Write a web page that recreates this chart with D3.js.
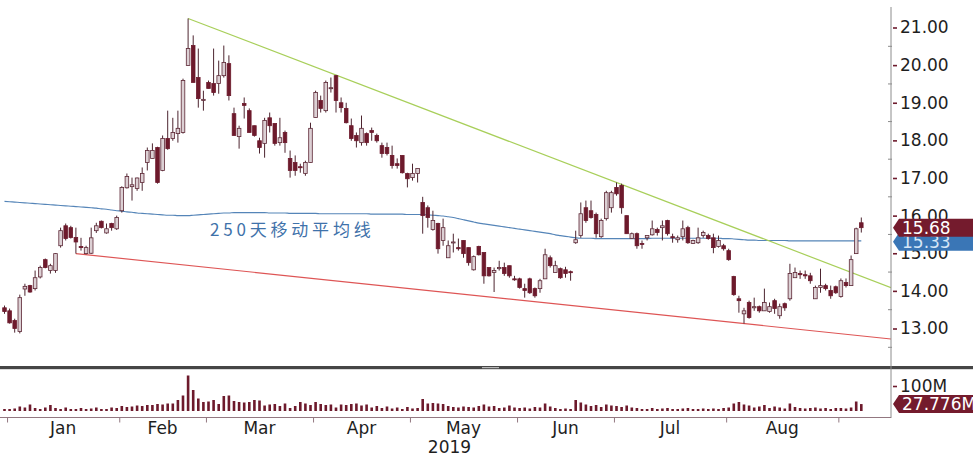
<!DOCTYPE html>
<html lang="zh">
<head>
<meta charset="UTF-8">
<title>股价走势 2019</title>
<script src="https://cdnjs.cloudflare.com/ajax/libs/d3/7.8.5/d3.min.js"></script>
<style>
    body {
        margin: 0;
        background: #fff;
    }
    svg text {
        font-family: "DejaVu Sans", Verdana, sans-serif;
    }
</style>
</head>
<body>
<svg id="chart" width="973" height="457"></svg>
<script>
    // month labels and the candle index where each month starts (HK trading days)
    const months = ["Jan", "Feb", "Mar", "Apr", "May", "Jun", "Jul", "Aug"];
    const monthStart = [1, 23, 40, 61, 80, 101, 120, 142, 164];
    const yearLabel = "2019";
    const priceTicks = [13, 14, 15, 16, 17, 18, 19, 20, 21];
    const volumeTicks = [100];

    // daily [open, high, low, close]
    const ohlc = [
        [13.55, 13.61, 13.39, 13.45], [13.47, 13.53, 13.13, 13.15], [13.21, 13.26, 12.89, 13.00], [12.92, 13.90, 12.87, 13.82],
        [14.05, 14.19, 13.87, 14.12], [14.14, 14.16, 13.95, 13.97], [14.06, 14.54, 14.01, 14.35], [14.37, 14.67, 14.33, 14.62],
        [14.83, 14.86, 14.60, 14.62], [14.54, 14.72, 14.46, 14.67], [14.54, 15.00, 14.48, 14.99], [15.20, 15.68, 15.15, 15.60],
        [15.73, 15.79, 15.34, 15.39], [15.68, 15.73, 15.39, 15.42], [15.42, 15.68, 14.99, 15.30], [15.18, 15.41, 15.07, 15.15],
        [14.99, 15.20, 14.97, 15.15], [15.00, 15.68, 14.98, 15.41], [15.60, 15.81, 15.54, 15.73], [15.85, 15.87, 15.66, 15.68],
        [15.54, 15.79, 15.52, 15.65], [15.79, 15.81, 15.60, 15.68], [15.65, 16.00, 15.62, 15.95], [16.13, 16.78, 16.08, 16.75],
        [16.74, 17.12, 16.72, 17.04], [16.77, 17.01, 16.40, 16.82], [16.72, 17.01, 16.66, 17.00], [16.88, 17.28, 16.66, 17.12],
        [17.41, 17.81, 17.20, 17.73], [17.52, 17.92, 17.52, 17.73], [17.81, 17.83, 16.85, 16.88], [17.20, 18.13, 17.18, 18.05],
        [18.05, 18.79, 17.75, 17.78], [18.05, 18.60, 17.99, 18.21], [18.18, 18.79, 17.94, 18.32], [18.21, 19.64, 18.18, 19.59],
        [19.99, 21.24, 19.99, 20.44], [20.52, 20.79, 19.54, 19.54], [19.67, 20.44, 18.87, 19.11], [19.06, 19.32, 18.79, 19.09],
        [19.54, 19.59, 19.38, 19.38], [19.51, 20.44, 19.19, 19.27], [19.51, 20.12, 19.24, 19.72], [19.72, 20.52, 19.67, 20.07],
        [20.04, 20.26, 19.06, 19.19], [18.71, 18.87, 18.13, 18.13], [18.10, 18.39, 17.78, 18.32], [18.98, 19.14, 18.58, 18.93],
        [18.79, 18.85, 18.21, 18.21], [18.39, 18.39, 18.10, 18.13], [17.99, 18.07, 17.65, 17.81], [17.92, 18.60, 17.54, 18.53],
        [18.60, 18.74, 18.21, 18.39], [18.45, 18.45, 17.86, 17.92], [17.94, 18.60, 17.86, 18.07], [18.21, 18.26, 17.67, 17.94],
        [17.52, 17.73, 17.01, 17.20], [17.41, 17.60, 17.06, 17.20], [17.30, 17.38, 17.14, 17.28], [17.12, 17.46, 17.06, 17.41],
        [17.41, 18.47, 17.41, 18.32], [18.61, 19.32, 18.61, 19.27], [19.06, 19.19, 18.74, 18.85], [18.79, 19.59, 18.74, 19.54],
        [19.38, 19.67, 19.27, 19.40], [19.72, 19.74, 18.74, 19.06], [19.00, 19.14, 18.74, 18.87], [18.85, 19.00, 18.45, 18.47],
        [18.39, 18.58, 17.99, 18.05], [18.13, 18.21, 17.81, 17.99], [17.94, 18.66, 17.86, 18.32], [18.18, 18.21, 17.86, 17.94],
        [18.26, 18.34, 17.99, 18.21], [18.13, 18.18, 17.94, 17.99], [17.86, 17.94, 17.54, 17.65], [17.81, 17.94, 17.60, 17.65],
        [17.60, 17.86, 17.25, 17.33], [17.38, 17.52, 17.25, 17.33], [17.60, 17.60, 17.12, 17.14], [17.12, 17.14, 16.75, 16.98],
        [17.01, 17.38, 16.93, 17.12], [17.12, 17.25, 16.88, 17.25], [16.35, 16.50, 15.52, 16.00], [16.21, 16.27, 15.68, 15.95],
        [15.63, 16.13, 15.60, 15.87], [15.79, 15.81, 14.99, 15.12], [15.34, 15.92, 15.20, 15.68], [14.88, 15.34, 14.88, 15.20],
        [15.28, 15.52, 15.02, 15.30], [15.15, 15.39, 15.07, 15.12], [15.34, 15.34, 14.88, 14.99], [15.15, 15.15, 14.67, 14.75],
        [14.56, 14.94, 14.54, 14.91], [15.18, 15.20, 14.94, 14.96], [15.02, 15.02, 14.19, 14.40], [14.62, 14.62, 14.38, 14.40],
        [14.49, 14.62, 13.97, 14.54], [14.59, 14.80, 14.54, 14.62], [14.62, 14.75, 14.40, 14.46], [14.67, 14.67, 14.35, 14.40],
        [14.32, 14.40, 14.27, 14.30], [14.32, 14.35, 14.06, 14.09], [14.06, 14.19, 13.82, 14.01], [14.32, 14.35, 13.92, 13.95],
        [14.06, 14.09, 13.82, 13.87], [14.06, 14.32, 13.95, 14.27], [14.32, 15.12, 14.32, 14.96], [14.88, 14.94, 14.62, 14.67],
        [14.49, 14.80, 14.49, 14.67], [14.59, 14.62, 14.32, 14.35], [14.56, 14.64, 14.35, 14.46], [14.51, 14.54, 14.27, 14.49],
        [15.28, 15.60, 15.25, 15.36], [15.47, 16.35, 15.41, 16.05], [16.21, 16.40, 15.81, 15.87], [16.13, 16.40, 15.92, 15.95],
        [16.03, 16.08, 15.41, 15.52], [15.44, 15.92, 15.41, 15.87], [15.92, 16.66, 15.87, 16.61], [16.21, 16.66, 16.08, 16.61],
        [16.75, 16.88, 16.53, 16.58], [16.80, 16.85, 16.05, 16.21], [16.00, 16.00, 15.52, 15.52], [15.39, 15.55, 15.39, 15.52],
        [15.52, 15.55, 15.12, 15.20], [15.26, 15.34, 15.12, 15.25], [15.41, 15.47, 15.34, 15.47], [15.49, 15.87, 15.47, 15.65],
        [15.63, 15.68, 15.47, 15.55], [15.68, 15.87, 15.34, 15.73], [15.87, 15.89, 15.47, 15.52], [15.44, 15.52, 15.28, 15.41],
        [15.36, 15.47, 15.28, 15.41], [15.44, 15.87, 15.34, 15.65], [15.68, 15.73, 15.25, 15.28], [15.26, 15.36, 15.25, 15.34],
        [15.28, 15.68, 15.25, 15.41], [15.47, 15.60, 15.41, 15.55], [15.47, 15.52, 15.36, 15.39], [15.41, 15.52, 15.00, 15.15],
        [15.18, 15.47, 15.15, 15.34], [15.20, 15.25, 15.07, 15.12], [15.07, 15.12, 14.80, 14.83], [14.38, 14.40, 13.87, 13.90],
        [13.79, 13.87, 13.42, 13.74], [13.39, 13.55, 13.13, 13.47], [13.69, 13.74, 13.26, 13.29], [13.55, 13.82, 13.47, 13.58],
        [13.58, 13.61, 13.42, 13.47], [13.47, 14.06, 13.47, 13.69], [13.45, 13.69, 13.42, 13.58], [13.74, 13.79, 13.39, 13.53],
        [13.34, 13.66, 13.26, 13.58], [13.66, 13.69, 13.47, 13.55], [13.79, 14.72, 13.74, 14.46], [14.35, 14.62, 14.35, 14.49],
        [14.46, 14.54, 14.32, 14.43], [14.43, 14.54, 14.32, 14.40], [14.40, 14.48, 14.19, 14.27], [13.79, 14.14, 13.79, 14.09],
        [14.09, 14.59, 13.95, 14.14], [14.14, 14.19, 14.01, 14.06], [14.01, 14.14, 13.79, 13.87], [14.11, 14.14, 13.92, 13.95],
        [13.85, 14.33, 13.82, 14.27], [14.22, 14.33, 14.09, 14.14], [14.14, 14.94, 14.14, 14.83], [14.99, 15.68, 14.99, 15.65],
        [15.81, 15.95, 15.55, 15.68]
    ];

    // daily volume, millions
    const volume = [
        8, 8, 10, 18, 14, 26, 12, 8, 14, 24, 12, 8, 14, 8, 8, 12, 8, 10, 14, 8, 8, 14, 12,
        20, 16, 18, 22, 20, 24, 24, 28, 26, 30, 30, 44, 62, 142, 84, 50, 36,
        38, 44, 28, 60, 62, 40, 36, 34, 36, 44, 42, 22, 26, 28, 20, 30, 12, 20, 36, 30, 24,
        36, 28, 24, 26, 14, 26, 24, 28, 30, 22, 26, 14, 20, 12, 18, 10, 14, 8, 16,
        10, 12, 48, 30, 32, 30, 28, 20, 16, 14, 18, 16, 14, 20, 26, 18, 20, 12, 14, 22, 14,
        12, 14, 10, 16, 14, 30, 18, 12, 8, 10, 8, 44, 34, 26, 20, 24, 16, 26, 22,
        20, 16, 22, 14, 12, 8, 8, 12, 8, 10, 12, 8, 8, 10, 12, 8, 8, 10, 8, 10, 8, 12,
        14, 30, 36, 26, 22, 14, 18, 24, 12, 18, 14, 10, 30, 16, 12, 10, 12, 14, 10, 12, 8, 12,
        12, 10, 14, 38, 27.776
    ];

    // 250-day moving average
    const ma250 = [
        16.38, 16.37, 16.36, 16.35, 16.34, 16.33, 16.32, 16.31, 16.30, 16.29, 16.28, 16.27, 16.26, 16.25, 16.24, 16.23,
        16.22, 16.21, 16.20, 16.18, 16.17, 16.15, 16.13,
        16.12, 16.10, 16.09, 16.07, 16.06, 16.05, 16.04, 16.03, 16.02, 16.01, 16.01, 16.00, 16.00,
        16.00, 16.01, 16.02, 16.03, 16.04, 16.05, 16.06, 16.07, 16.07, 16.08, 16.08, 16.08, 16.08,
        16.08, 16.08, 16.08, 16.07, 16.07, 16.07, 16.07, 16.06, 16.06, 16.06, 16.06, 16.06, 16.06, 16.05, 16.05, 16.05,
        16.05, 16.05, 16.05, 16.05, 16.05, 16.05, 16.05, 16.04, 16.04, 16.04, 16.04, 16.04, 16.04, 16.04, 16.03, 16.03,
        16.03, 16.03, 16.02,
        16.01, 16.00, 15.99, 15.97, 15.95, 15.92, 15.89, 15.86, 15.83, 15.80, 15.78, 15.76, 15.74, 15.72, 15.70, 15.68, 15.66,
        15.64, 15.62, 15.60, 15.58, 15.56, 15.54, 15.52, 15.49, 15.47, 15.45, 15.43, 15.41, 15.40,
        15.40, 15.40, 15.39, 15.39, 15.39, 15.39, 15.39, 15.39, 15.39, 15.39, 15.39, 15.39, 15.39, 15.40, 15.40, 15.40,
        15.40, 15.40, 15.40, 15.40, 15.40, 15.40, 15.40, 15.40, 15.40, 15.40, 15.40, 15.39, 15.39, 15.38, 15.37, 15.36,
        15.35, 15.35, 15.34, 15.34, 15.34,
        15.34, 15.34, 15.34, 15.33, 15.33, 15.33, 15.33, 15.33, 15.33, 15.33, 15.33, 15.33, 15.33, 15.33, 15.33, 15.33,
        15.33, 15.33
    ];

    // hand-drawn trend lines: [candle index, price] anchors
    const upperTrend = [[36, 21.24], [120, 16.88]];
    const lowerTrend = [[14, 14.99], [145, 13.13]];
    const maLabel = "250天移动平均线";

    const width = 973;
    const axisX = 891;
    const priceBottom = 366;

    const maroon = "#6d1a2c";
    const svg = d3.select("#chart");

    const x = d3.scaleLinear().domain([0, ohlc.length - 1]).range([4.5, 861.3]);
    const y = d3.scaleLinear().domain([13, 21]).range([328.5, 27.5]);
    const yv = d3.scaleLinear().domain([0, 100]).range([411, 386]);

    svg.append("defs").append("clipPath").attr("id", "priceClip")
        .append("rect").attr("x", 0).attr("y", 0).attr("width", axisX).attr("height", priceBottom);

    const plot = svg.append("g").attr("clip-path", "url(#priceClip)");

    // moving average
    const maLine = d3.line().x((d, i) => x(i)).y(d => y(d)).curve(d3.curveMonotoneX);
    plot.append("path")
        .attr("d", maLine(ma250))
        .attr("fill", "none")
        .attr("stroke", "#5585b8")
        .attr("stroke-width", 1.15);

    // trend lines, extended to the axis
    const xEnd = x.invert(axisX);
    function trend(anchors, color) {
        const [[i0, p0], [i1, p1]] = anchors;
        const slope = (p1 - p0) / (i1 - i0);
        plot.append("line")
            .attr("x1", x(i0)).attr("y1", y(p0))
            .attr("x2", x(xEnd)).attr("y2", y(p0 + slope * (xEnd - i0)))
            .attr("stroke", color)
            .attr("stroke-width", 1.2);
    }
    trend(upperTrend, "#a8cf5a");
    trend(lowerTrend, "#de5555");

    plot.append("text")
        .attr("x", 210)
        .attr("y", 236)
        .attr("fill", "#3f72aa")
        .style("font-family", "'Noto Sans CJK SC', sans-serif")
        .style("font-size", "17px")
        .style("letter-spacing", "3.8px")
        .text(maLabel);

    // candles
    const bodyW = 3.6;
    const candles = plot.selectAll("g.candle")
        .data(ohlc)
        .enter()
        .append("g")
        .attr("class", "candle");

    candles.append("line")
        .attr("x1", (d, i) => x(i)).attr("x2", (d, i) => x(i))
        .attr("y1", d => y(d[1])).attr("y2", d => y(d[2]))
        .attr("stroke", "#4d2530")
        .attr("stroke-width", 1);

    candles.append("rect")
        .attr("x", (d, i) => x(i) - bodyW / 2)
        .attr("y", d => y(Math.max(d[0], d[3])))
        .attr("width", bodyW)
        .attr("height", d => Math.max(1, Math.abs(y(d[0]) - y(d[3]))))
        .attr("fill", d => d[3] >= d[0] ? "#dcd0d4" : maroon)
        .attr("stroke", d => d[3] >= d[0] ? "#5c2735" : maroon)
        .attr("stroke-width", 0.8);

    // volume bars
    svg.append("g").selectAll("rect")
        .data(volume)
        .enter()
        .append("rect")
        .attr("x", (d, i) => x(i) - 1.3)
        .attr("y", d => yv(d))
        .attr("width", 2.6)
        .attr("height", d => yv(0) - yv(d))
        .attr("fill", maroon);

    // panel separator
    svg.append("rect")
        .attr("x", 0).attr("y", priceBottom)
        .attr("width", width).attr("height", 3.2)
        .attr("fill", "#464646");
    svg.append("rect")
        .attr("x", 482).attr("y", priceBottom + 1)
        .attr("width", 17).attr("height", 1.2)
        .attr("fill", "#b8b8b8");

    // right axis line
    svg.append("line")
        .attr("x1", axisX).attr("x2", axisX)
        .attr("y1", 7).attr("y2", 418)
        .attr("stroke", "#8c8c8c");

    // x axis line
    svg.append("line")
        .attr("x1", 0).attr("x2", axisX)
        .attr("y1", 417.5).attr("y2", 417.5)
        .attr("stroke", "#927780");

    // price axis
    const minor = d3.range(12.5, 21.5, 1);
    svg.append("g").selectAll("line")
        .data(minor)
        .enter()
        .append("line")
        .attr("x1", axisX - 3).attr("x2", axisX + 1)
        .attr("y1", d => y(d)).attr("y2", d => y(d))
        .attr("stroke", "#8c8c8c");

    function styleAxis(g) {
        g.select(".domain").remove();
        g.selectAll(".tick line").attr("stroke", maroon).attr("stroke-width", 1.6).attr("x1", 2);
        g.selectAll(".tick text").attr("fill", "#1e1e1e").style("font-size", "17px");
    }

    svg.append("g")
        .attr("transform", `translate(${axisX},0)`)
        .call(d3.axisRight(y).tickValues(priceTicks).tickFormat(d3.format(".2f")).tickSize(6).tickPadding(3))
        .call(styleAxis);

    svg.append("g")
        .attr("transform", `translate(${axisX},0)`)
        .call(d3.axisRight(yv).tickValues(volumeTicks).tickFormat(d => d + "M").tickSize(6).tickPadding(3))
        .call(styleAxis);

    // last value flags
    function flag(cy, color, textColor, label, size) {
        const h = 18;
        svg.append("path")
            .attr("d", `M${axisX + 2},${cy} L${axisX + 8},${cy - h / 2} L${width},${cy - h / 2} L${width},${cy + h / 2} L${axisX + 8},${cy + h / 2} Z`)
            .attr("fill", color);
        svg.append("text")
            .attr("x", axisX + 11)
            .attr("y", cy)
            .attr("dy", "0.36em")
            .attr("fill", textColor)
            .style("font-size", size)
            .text(label);
    }
    const lastClose = ohlc[ohlc.length - 1][3];
    const lastMA = ma250[ma250.length - 1];
    const lastVol = volume[volume.length - 1];
    flag(y(lastMA) + 1, "#3a76b6", "#d6e6f6", d3.format(".2f")(lastMA), "17px");
    flag(y(lastClose), "#741b2d", "#ffffff", d3.format(".2f")(lastClose), "17px");
    flag(yv(lastVol), "#741b2d", "#ffffff", lastVol + "M", "17px");

    // month ticks and labels
    const tickIdx = monthStart.map(i => i - 0.5);
    svg.append("g")
        .attr("transform", "translate(0,417.5)")
        .call(d3.axisBottom(x).tickValues(tickIdx).tickFormat("").tickSize(5))
        .call(g => g.select(".domain").remove())
        .call(g => g.selectAll(".tick line").attr("stroke", "#927780"));

    svg.append("g").selectAll("text")
        .data(months)
        .enter()
        .append("text")
        .attr("x", (d, i) => (x(tickIdx[i]) + x(tickIdx[i + 1])) / 2)
        .attr("y", 434)
        .attr("text-anchor", "middle")
        .attr("fill", "#1e1e1e")
        .style("font-size", "17px")
        .text(d => d);

    svg.append("text")
        .attr("x", (x(tickIdx[4]) + x(tickIdx[5])) / 2 - 14)
        .attr("y", 453)
        .attr("text-anchor", "middle")
        .attr("fill", "#1e1e1e")
        .style("font-size", "17px")
        .text(yearLabel);
</script>
</body>
</html>
